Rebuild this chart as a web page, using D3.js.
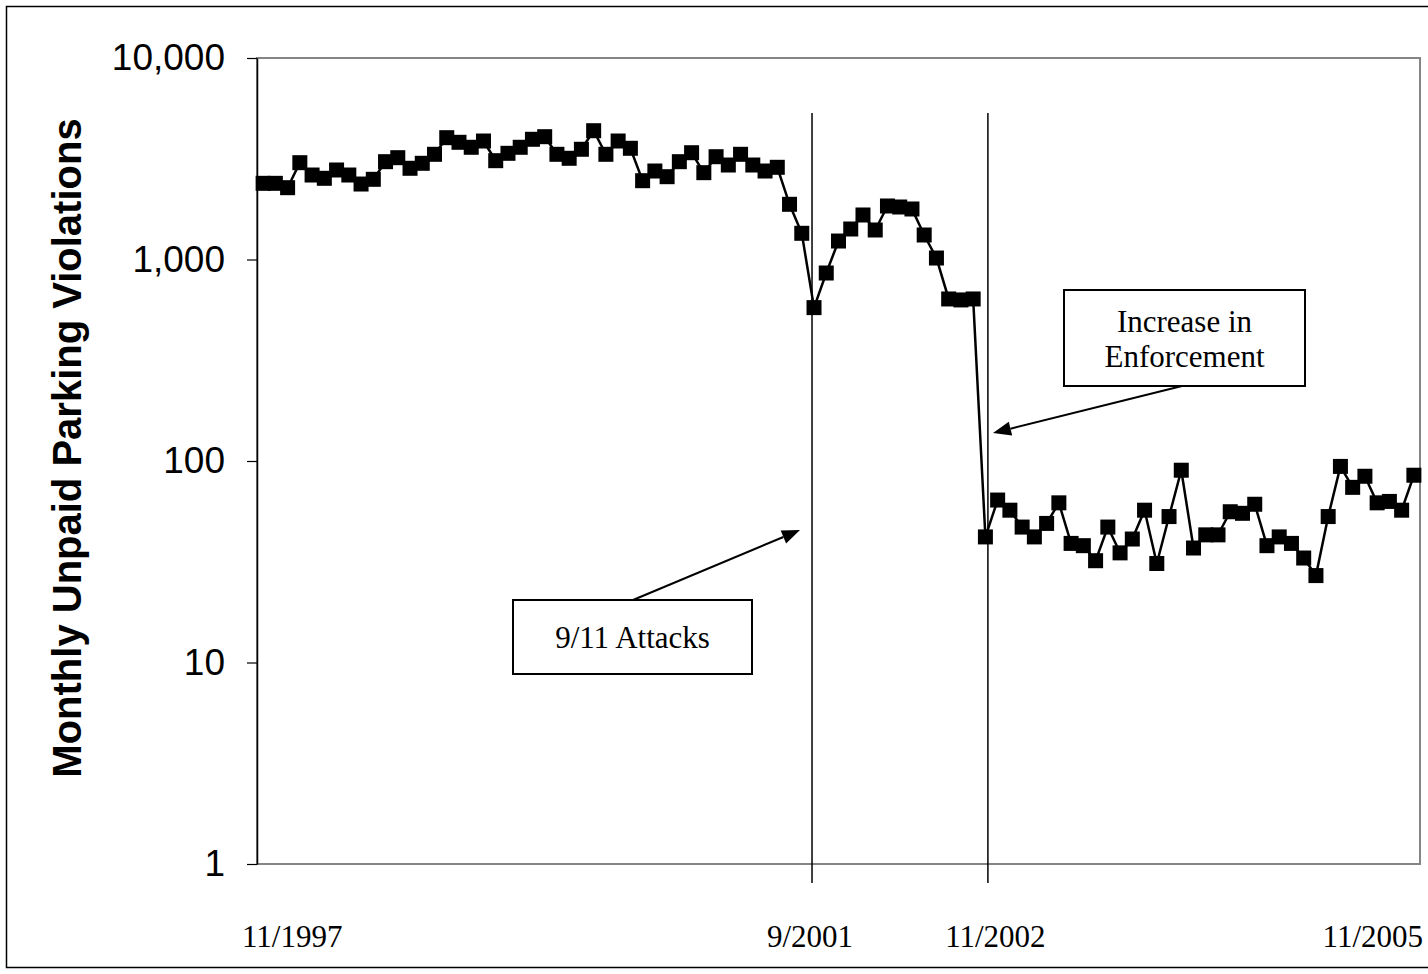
<!DOCTYPE html>
<html>
<head>
<title>Monthly Unpaid Parking Violations</title>
<script src="https://cdnjs.cloudflare.com/ajax/libs/d3/7.8.5/d3.min.js"></script>
<style>
  body { margin: 0; background: #fff; }
  svg { display: block; }
</style>
</head>
<body>
<div id="chart"></div>
<script type="text/javascript">

// monthly unpaid violations, one value per month starting 12/1997
var violations = [
  2388, 2388, 2272, 3023, 2626, 2529, 2781, 2626, 2369, 2500,
  3058, 3201, 2836, 3002, 3327, 4023, 3816, 3605, 3873, 3093,
  3365, 3605, 3950, 4069, 3327, 3179, 3524, 4357, 3327, 3873,
  3564, 2461, 2749, 2576, 3058, 3388, 2697, 3237, 2944, 3327,
  2944, 2749, 2868, 1879, 1349, 577, 857, 1235, 1417, 1663,
  1401, 1843, 1822, 1781, 1323, 1017, 637, 630, 637, 42,
  64, 57, 47, 42, 49, 62, 39, 38, 32, 47,
  35, 41, 57, 31, 53, 90, 37, 43, 43, 56,
  55, 61, 38, 42, 39, 33, 27, 53, 94, 74,
  84, 62, 63, 57, 85
];
var firstMonth = new Date(1997, 11, 1);
var months = violations.map(function(d, i) { return d3.timeMonth.offset(firstMonth, i); });

var yTicks = [1, 10, 100, 1000, 10000];
var yTitle = "Monthly Unpaid Parking Violations";

// vertical event lines (index into months)
var eventIdx = [45, 59];
var xLabels = ["11/1997", "9/2001", "11/2002", "11/2005"];

var W = 1428, H = 974;
var plotL = 257, plotR = 1420, plotT = 58, plotB = 864;

var svg = d3.select("#chart").append("svg")
    .attr("width", W)
    .attr("height", H);

// outer chart border
svg.append("rect")
    .attr("x", 6.5).attr("y", 6.5)
    .attr("width", 1440).attr("height", 961)
    .attr("fill", "none")
    .attr("stroke", "#000")
    .attr("stroke-width", 1.5);

var x = d3.scalePoint()
    .domain(months)
    .range([plotL, plotR])
    .padding(0.5);

var y = d3.scaleLog()
    .domain([1, 10000])
    .range([plotB, plotT]);

// plot frame
svg.append("rect")
    .attr("x", plotL).attr("y", plotT)
    .attr("width", plotR - plotL).attr("height", plotB - plotT)
    .attr("fill", "none")
    .attr("stroke", "#858585")
    .attr("stroke-width", 2);

var yAxis = svg.append("g")
    .attr("transform", "translate(" + plotL + ",0)")
    .call(d3.axisLeft(y)
        .tickValues(yTicks)
        .tickFormat(d3.format(","))
        .tickSize(10)
        .tickSizeOuter(0)
        .tickPadding(22));
yAxis.select(".domain").attr("stroke", "#000").attr("stroke-width", 1.5);
yAxis.selectAll(".tick line").attr("stroke", "#000").attr("stroke-width", 1.2);
yAxis.selectAll(".tick text")
    .attr("fill", "#000")
    .style("font-family", "'Liberation Sans', Arial, sans-serif")
    .style("font-size", "37px");

svg.append("text")
    .attr("transform", "translate(81," + 448 + ") rotate(-90)")
    .attr("text-anchor", "middle")
    .style("font-family", "'Liberation Sans', Arial, sans-serif")
    .style("font-weight", "bold")
    .style("font-size", "40px")
    .text(yTitle);

// event lines
var lineOffset = [-2, 2.5];
eventIdx.forEach(function(idx, i) {
  var ex = x(months[idx]) + lineOffset[i];
  svg.append("line")
      .attr("x1", ex).attr("x2", ex)
      .attr("y1", 113).attr("y2", 883)
      .attr("stroke", "#000")
      .attr("stroke-width", 1.5);
});

// x labels (free text boxes under the chart)
var serif = "'Liberation Serif', 'Times New Roman', serif";
var labelPos = [
  { x: plotL - 15, anchor: "start" },
  { x: x(months[eventIdx[0]]) - 4, anchor: "middle" },
  { x: x(months[eventIdx[1]]) + 10, anchor: "middle" },
  { x: plotR + 3, anchor: "end" }
];
svg.selectAll(".xlab")
    .data(xLabels)
    .enter().append("text")
    .attr("class", "xlab")
    .attr("x", function(d, i) { return labelPos[i].x; })
    .attr("y", 947)
    .attr("text-anchor", function(d, i) { return labelPos[i].anchor; })
    .style("font-family", serif)
    .style("font-size", "31px")
    .text(function(d) { return d; });

// series
var line = d3.line()
    .x(function(d, i) { return x(months[i]); })
    .y(function(d) { return y(d); });

svg.append("path")
    .datum(violations)
    .attr("d", line)
    .attr("fill", "none")
    .attr("stroke", "#000")
    .attr("stroke-width", 2.5);

var ms = 15;
svg.selectAll(".pt")
    .data(violations)
    .enter().append("rect")
    .attr("class", "pt")
    .attr("x", function(d, i) { return x(months[i]) - ms / 2; })
    .attr("y", function(d) { return y(d) - ms / 2; })
    .attr("width", ms)
    .attr("height", ms)
    .attr("fill", "#000");

// annotations
function arrow(x1, y1, x2, y2) {
  var a = Math.atan2(y2 - y1, x2 - x1);
  var len = 18, half = 7;
  var bx = x2 - len * Math.cos(a), by = y2 - len * Math.sin(a);
  svg.append("line")
      .attr("x1", x1).attr("y1", y1)
      .attr("x2", bx).attr("y2", by)
      .attr("stroke", "#000").attr("stroke-width", 2);
  var p = [
    [x2, y2],
    [bx + half * Math.sin(a), by - half * Math.cos(a)],
    [bx - half * Math.sin(a), by + half * Math.cos(a)]
  ];
  svg.append("path")
      .attr("d", "M" + p.join("L") + "Z")
      .attr("fill", "#000");
}

function box(x0, y0, w, h, lines, lineH) {
  svg.append("rect")
      .attr("x", x0).attr("y", y0)
      .attr("width", w).attr("height", h)
      .attr("fill", "#fff")
      .attr("stroke", "#000")
      .attr("stroke-width", 2);
  var t = svg.append("text")
      .attr("text-anchor", "middle")
      .style("font-family", serif)
      .style("font-size", "31px");
  var startY = y0 + h / 2 - (lines.length - 1) * lineH / 2 + 11;
  lines.forEach(function(s, i) {
    t.append("tspan")
        .attr("x", x0 + w / 2)
        .attr("y", startY + i * lineH)
        .text(s);
  });
}

arrow(633, 600, 800, 530);
box(513, 600, 239, 74, ["9/11 Attacks"], 35);

arrow(1182, 386, 993, 433);
box(1064, 290, 241, 96, ["Increase in", "Enforcement"], 35);

</script>
</body>
</html>
